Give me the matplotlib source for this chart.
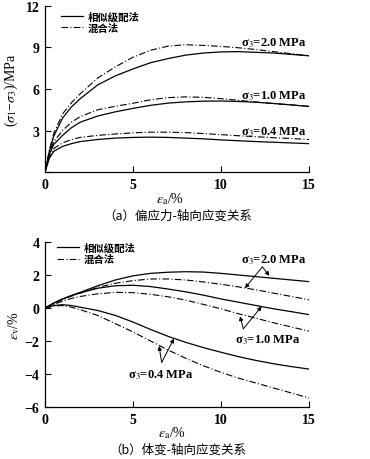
import matplotlib
matplotlib.use("Agg")
import matplotlib.pyplot as plt

plt.rcParams['font.family'] = ['Liberation Serif', 'DejaVu Serif']
plt.rcParams['mathtext.fontset'] = 'stix'

# ---------------- data ----------------
ea_top = [0, 0.25, 0.5, 1, 1.5, 2, 3, 4, 5, 6, 7, 8, 9, 10, 11, 12, 13, 14, 15]
q_sim_20 = [0, 1.5, 2.6, 3.9, 4.7, 5.3, 6.3, 6.95, 7.45, 7.9, 8.2, 8.45, 8.6, 8.68, 8.7, 8.65, 8.6, 8.5, 8.4]
q_mix_20 = [0, 1.6, 2.8, 4.2, 5.0, 5.65, 6.8, 7.6, 8.3, 8.8, 9.1, 9.2, 9.15, 9.08, 8.98, 8.85, 8.7, 8.55, 8.4]
q_sim_10 = [0, 1.3, 2.0, 2.65, 3.2, 3.6, 4.05, 4.35, 4.6, 4.82, 4.98, 5.07, 5.12, 5.13, 5.1, 5.04, 4.95, 4.85, 4.74]
q_mix_10 = [0, 1.4, 2.2, 3.0, 3.6, 4.0, 4.5, 4.75, 4.97, 5.22, 5.38, 5.43, 5.4, 5.3, 5.18, 5.06, 4.95, 4.85, 4.74]
q_sim_04 = [0, 1.0, 1.5, 1.85, 2.05, 2.2, 2.35, 2.45, 2.5, 2.52, 2.5, 2.45, 2.4, 2.32, 2.26, 2.2, 2.15, 2.1, 2.05]
q_mix_04 = [0, 1.1, 1.7, 2.1, 2.35, 2.5, 2.65, 2.75, 2.83, 2.88, 2.88, 2.85, 2.78, 2.7, 2.62, 2.55, 2.48, 2.42, 2.35]

ea_bot = [0, 0.5, 1, 1.5, 2, 3, 4, 5, 6, 7, 8, 9, 10, 11, 12, 13, 14, 15]
ev_sim_20 = [0, 0.3, 0.55, 0.75, 0.95, 1.35, 1.7, 1.95, 2.1, 2.17, 2.2, 2.18, 2.1, 2.0, 1.9, 1.8, 1.7, 1.6]
ev_mix_20 = [0, 0.28, 0.52, 0.72, 0.9, 1.25, 1.5, 1.66, 1.76, 1.76, 1.7, 1.58, 1.44, 1.28, 1.1, 0.9, 0.7, 0.5]
ev_sim_10 = [0, 0.3, 0.55, 0.75, 0.92, 1.2, 1.35, 1.38, 1.3, 1.15, 0.98, 0.78, 0.55, 0.35, 0.15, -0.05, -0.22, -0.4]
ev_mix_10 = [0, 0.22, 0.42, 0.58, 0.7, 0.86, 0.95, 0.93, 0.83, 0.68, 0.48, 0.22, -0.05, -0.35, -0.62, -0.9, -1.15, -1.4]
ev_sim_04 = [0, 0.15, 0.2, 0.15, 0.05, -0.15, -0.45, -0.85, -1.3, -1.72, -2.08, -2.4, -2.68, -2.95, -3.18, -3.38, -3.55, -3.7]
ev_mix_04 = [0, 0.12, 0.15, 0.05, -0.1, -0.45, -0.95, -1.45, -2.0, -2.55, -3.05, -3.5, -3.9, -4.25, -4.55, -4.85, -5.15, -5.45]

x_ticks = [0, 5, 10, 15]
y_ticks_top = [0, 3, 6, 9, 12]
y_ticklabels_top = ['', '3', '6', '9', '12']
y_ticks_bot = [-6, -4, -2, 0, 2, 4]
y_ticklabels_bot = ['−6', '−4', '−2', '0', '2', '4']
legend_labels = ['相似级配法', '混合法']
s3_labels = ['σ$_3$=2.0 MPa', 'σ$_3$=1.0 MPa', 'σ$_3$=0.4 MPa']

# ---------------- figure ----------------
fig = plt.figure(figsize=(3.7, 4.6), dpi=100)
ax1 = fig.add_axes([0.1216, 0.6239, 0.7135, 0.3609])
ax2 = fig.add_axes([0.1216, 0.1130, 0.7135, 0.3587])

solid = dict(color='black', lw=0.9, ls='-')
dash = dict(color='black', lw=0.8, ls=(0, (6, 2, 1, 2)))
cjk = ['Noto Sans CJK SC', 'DejaVu Sans']

def style(ax, yticks, yticklabels, ylim):
    ax.set_xlim(0, 15)
    ax.set_ylim(*ylim)
    ax.set_xticks(x_ticks)
    ax.set_yticks(yticks)
    ax.set_yticklabels(yticklabels)
    for s in ['top', 'right']:
        ax.spines[s].set_visible(False)
    for s in ['left', 'bottom']:
        ax.spines[s].set_linewidth(0.9)
    ax.tick_params(direction='in', length=4, width=0.8, labelsize=10, pad=4)
    for lab in ax.get_xticklabels() + ax.get_yticklabels():
        lab.set_fontweight('bold')

# top panel
l1, = ax1.plot(ea_top, q_sim_20, **solid)
l2, = ax1.plot(ea_top, q_mix_20, **dash)
ax1.plot(ea_top, q_sim_10, **solid)
ax1.plot(ea_top, q_mix_10, **dash)
ax1.plot(ea_top, q_sim_04, **solid)
ax1.plot(ea_top, q_mix_04, **dash)
style(ax1, y_ticks_top, y_ticklabels_top, (0, 12))
ax1.set_ylabel('($\\sigma_1$−$\\sigma_3$)/MPa', fontsize=10, labelpad=4)
ax1.text(0.473, -0.16, '$\\varepsilon_\\mathrm{a}$/%', transform=ax1.transAxes,
         ha='center', va='center', fontsize=10)
ax1.legend([l1, l2], legend_labels, loc='upper left', bbox_to_anchor=(0.06, 0.97),
           frameon=False, handlelength=2.1, handletextpad=0.5, labelspacing=0.15,
           borderaxespad=0, borderpad=0, prop={'family': cjk, 'size': 7.5, 'weight': 'bold'})
for lab, yy in zip(s3_labels, [9.4, 5.56, 2.96]):
    ax1.text(14.85, yy, lab, ha='right', va='center', fontsize=9, fontweight='bold')
fig.text(0.48, 0.531, '（a）偏应力-轴向应变关系', ha='center', va='center',
         family=cjk, fontsize=9)

# bottom panel
m1, = ax2.plot(ea_bot, ev_sim_20, **solid)
m2, = ax2.plot(ea_bot, ev_mix_20, **dash)
ax2.plot(ea_bot, ev_sim_10, **solid)
ax2.plot(ea_bot, ev_mix_10, **dash)
ax2.plot(ea_bot, ev_sim_04, **solid)
ax2.plot(ea_bot, ev_mix_04, **dash)
style(ax2, y_ticks_bot, y_ticklabels_bot, (-6, 4))
ax2.set_ylabel('$\\varepsilon_\\mathrm{v}$/%', fontsize=10, labelpad=2)
ax2.text(0.48, -0.15, '$\\varepsilon_\\mathrm{a}$/%', transform=ax2.transAxes,
         ha='center', va='center', fontsize=10)
ax2.legend([m1, m2], legend_labels, loc='upper left', bbox_to_anchor=(0.045, 1.0),
           frameon=False, handlelength=2.1, handletextpad=0.5, labelspacing=0.15,
           borderaxespad=0, borderpad=0, prop={'family': cjk, 'size': 7.5, 'weight': 'bold'})

arrow = dict(arrowstyle='-|>', lw=0.7, color='black', mutation_scale=6, shrinkA=0, shrinkB=0)
# sigma3 = 2.0
ax2.text(14.87, 2.95, s3_labels[0], ha='right', va='center', fontsize=9, fontweight='bold')
ax2.annotate('', xy=(11.36, 1.2), xytext=(12.35, 2.5), arrowprops=arrow)
ax2.annotate('', xy=(12.75, 1.95), xytext=(12.35, 2.5), arrowprops=arrow)
# sigma3 = 1.0
ax2.text(10.8, -1.86, s3_labels[1], ha='left', va='center', fontsize=9, fontweight='bold')
ax2.annotate('', xy=(11.08, -0.5), xytext=(11.27, -1.26), arrowprops=arrow)
ax2.annotate('', xy=(12.31, 0.1), xytext=(11.27, -1.26), arrowprops=arrow)
# sigma3 = 0.4
ax2.text(4.72, -4.0, s3_labels[2], ha='left', va='center', fontsize=9, fontweight='bold')
ax2.annotate('', xy=(6.48, -2.3), xytext=(6.63, -3.3), arrowprops=arrow)
ax2.annotate('', xy=(7.33, -1.85), xytext=(6.63, -3.3), arrowprops=arrow)
fig.text(0.48, 0.022, '（b）体变-轴向应变关系', ha='center', va='center',
         family=cjk, fontsize=9)

fig.savefig('out.png', dpi=100)
